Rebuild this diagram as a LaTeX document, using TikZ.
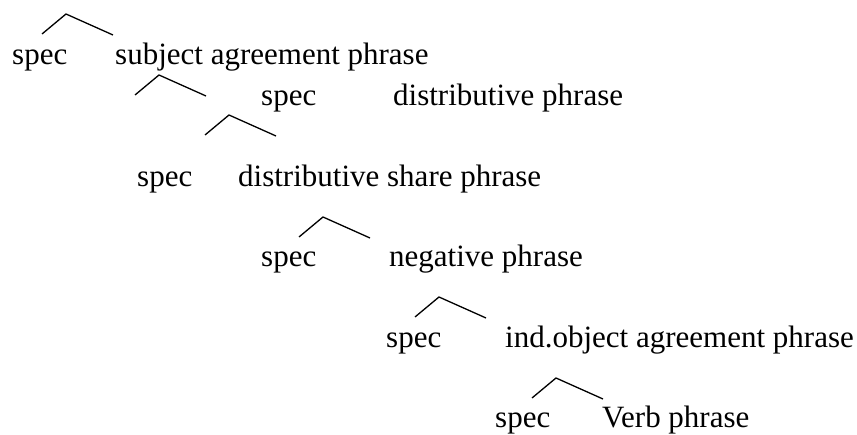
\documentclass[tikz,border=0pt]{standalone}
\usepackage{fontspec}
\setmainfont{Liberation Serif}
\begin{document}
\begin{tikzpicture}[x=1pt, y=1pt,
  lbl/.style={anchor=base west, inner sep=0pt, font=\fontsize{31}{37}\selectfont},
  wedge/.style={line width=1.3pt}]
\useasboundingbox (0,0) rectangle (857,-435);
% rows of labels
\node[lbl] (spec1) at (12,-65) {spec};
\node[lbl] (subjagr) at (115,-65) {subject agreement phrase};
\node[lbl] (spec2) at (261,-106) {spec};
\node[lbl] (distr) at (393,-106) {distributive phrase};
\node[lbl] (spec3) at (137,-187) {spec};
\node[lbl] (distrshare) at (238,-187) {distributive share phrase};
\node[lbl] (spec4) at (261,-267) {spec};
\node[lbl] (neg) at (389,-267) {negative phrase};
\node[lbl] (spec5) at (386,-348) {spec};
\node[lbl] (indobj) at (505,-348) {ind.object agreement phrase};
\node[lbl] (spec6) at (495,-428) {spec};
\node[lbl] (verb) at (602,-428) {Verb phrase};
% wedges
\coordinate (w1) at (66,-14);
\coordinate (w2) at (159,-75);
\coordinate (w3) at (229,-115);
\coordinate (w4) at (323,-217);
\coordinate (w5) at (439,-297);
\coordinate (w6) at (556,-378);
\foreach \i in {1,...,6}
  \draw[wedge] ([shift={(-24,-20)}]w\i) -- (w\i) -- ([shift={(47,-21)}]w\i);
\end{tikzpicture}
\end{document}
